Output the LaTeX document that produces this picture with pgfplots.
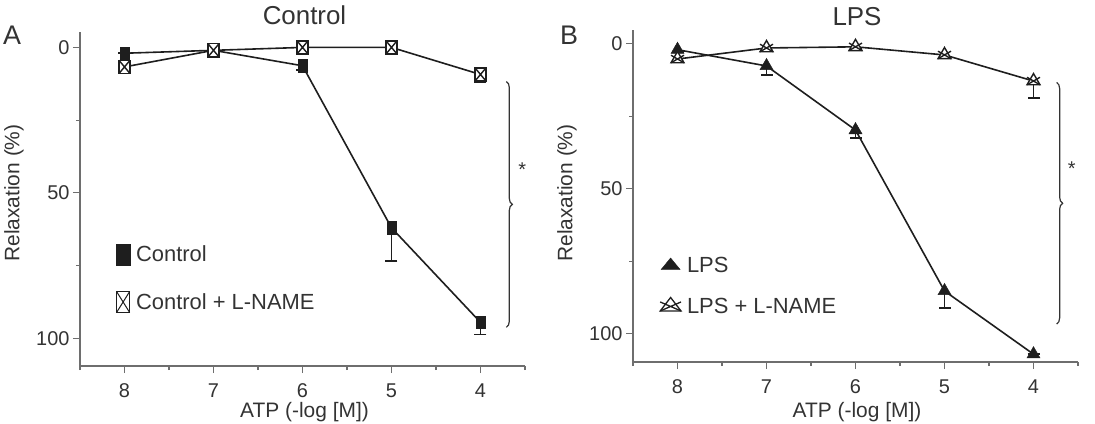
\documentclass[border=0pt]{standalone}
\usepackage{fontspec}
\setmainfont{Liberation Sans}
\usepackage{pgfplots}
\pgfplotsset{compat=1.18}
\usepackage{pgfplotstable}
\usetikzlibrary{decorations.pathreplacing}

\definecolor{ink}{HTML}{1E1E1E}
\definecolor{axisgray}{HTML}{6E6E6E}
\definecolor{txt}{HTML}{333333}

% open box with a cross inside
\pgfdeclareplotmark{boxx}{%
  \pgfpathrectangle{\pgfqpoint{-\pgfplotmarksize}{-\pgfplotmarksize}}{\pgfqpoint{2\pgfplotmarksize}{2\pgfplotmarksize}}%
  \pgfusepathqfillstroke
  \pgfpathmoveto{\pgfqpoint{-\pgfplotmarksize}{-\pgfplotmarksize}}%
  \pgfpathlineto{\pgfqpoint{\pgfplotmarksize}{\pgfplotmarksize}}%
  \pgfpathmoveto{\pgfqpoint{-\pgfplotmarksize}{\pgfplotmarksize}}%
  \pgfpathlineto{\pgfqpoint{\pgfplotmarksize}{-\pgfplotmarksize}}%
  \pgfusepathqstroke}
% open triangle with a cross through it
\pgfdeclareplotmark{trix}{%
  \pgfpathmoveto{\pgfqpointpolar{90}{\pgfplotmarksize}}%
  \pgfpathlineto{\pgfqpointpolar{210}{\pgfplotmarksize}}%
  \pgfpathlineto{\pgfqpointpolar{-30}{\pgfplotmarksize}}%
  \pgfpathclose
  \pgfusepathqfillstroke
  \pgfpathmoveto{\pgfqpointpolar{150}{\pgfplotmarksize}}%
  \pgfpathlineto{\pgfqpointpolar{-30}{\pgfplotmarksize}}%
  \pgfpathmoveto{\pgfqpointpolar{30}{\pgfplotmarksize}}%
  \pgfpathlineto{\pgfqpointpolar{210}{\pgfplotmarksize}}%
  \pgfusepathqstroke}

% ATP concentration (-log M), relaxation (%), SEM
\pgfplotstableread{
x y e
8 2.0 0.0
7 1.0 0.0
6 6.3 1.5
5 62.0 11.4
4 94.5 4.1
}\ctrl
\pgfplotstableread{
x y e
8 6.7 1.2
7 1.0 0.8
6 0.0 0.8
5 0.0 0.8
4 9.3 2.8
}\ctrlname
\pgfplotstableread{
x y e
8 2.0 0.8
7 7.6 3.1
6 29.7 2.7
5 85.2 5.8
4 107.0 0.0
}\lps
\pgfplotstableread{
x y e
8 5.2 1.2
7 1.4 1.0
6 1.0 0.8
5 3.8 1.0
4 12.8 5.8
}\lpsname

\pgfplotsset{
  panel/.style={
    scale only axis, width=445bp,
    x dir=reverse, y dir=reverse,
    xmin=3.5, xmax=8.5,
    axis x line*=bottom, axis y line*=left,
    axis line style={axisgray, line width=1.1bp},
    xtick={4,5,6,7,8}, minor xtick={3.5,4.5,5.5,6.5,7.5,8.5},
    ytick={0,50,100}, minor ytick={25,75},
    tick style={axisgray, line width=1.1bp},
    major tick length=7bp, minor tick length=4bp,
    tick align=outside,
    ticklabel style={font=\fontsize{20}{24}\selectfont, text=txt},
    xticklabel style={yshift=-7bp},
    /pgf/number format/assume math mode=true,
    clip=false,
    legend cell align=left,
    legend image code/.code={\draw[##1] plot coordinates {(0bp,0bp)};},
  },
  series/.style={ink, line width=1.6bp,
    error bars/y dir=plus, error bars/y explicit,
    error bars/error bar style={ink, line width=1.5bp},
    error bars/error mark options={ink, line width=1.5bp, mark size=6bp, rotate=90}},
}

\begin{document}
\begin{tikzpicture}[x=1bp, y=1bp]
\useasboundingbox (0,0) rectangle (1095,423);

% ---- panel A: control ----
\begin{axis}[panel, at={(80bp,57bp)}, anchor=south west,
  height=334bp, ymin=-5.3, ymax=109.5,
  legend style={draw=none, fill=none, at={(0.074,0.372)}, anchor=north west,
    font=\fontsize{22}{26}\selectfont, text=txt, row sep=26bp,
    nodes={inner xsep=6bp}}]
\addlegendimage{only marks, mark=square*, mark size=7bp, mark options={yscale=1.5, fill=ink, draw=ink}}
\addlegendentry{Control}
\addlegendimage{only marks, mark=boxx, mark size=6.5bp, mark options={yscale=1.6, fill=white, draw=ink, line width=1bp}}
\addlegendentry{Control + L-NAME}
\addplot[series, mark=square*, mark size=4.5bp, mark options={yscale=1.4, fill=ink, draw=ink, line width=0.5bp}]
  table[x=x, y=y, y error=e] {\ctrl};
\addplot[series, mark=boxx, mark size=5.5bp, mark options={yscale=1.2, fill=white, draw=ink, line width=1.4bp}]
  table[x=x, y=y, y error=e] {\ctrlname};
\draw[decorate, decoration={brace, amplitude=6bp}, txt, line width=1.2bp]
  (axis cs:3.71,11.7) -- (axis cs:3.71,96.2);
\node[txt, font=\fontsize{20}{24}\selectfont] at (axis cs:3.53,42) {*};
\end{axis}

% ---- panel B: LPS ----
\begin{axis}[panel, at={(633bp,61bp)}, anchor=south west,
  height=332bp, ymin=-4.8, ymax=109.7,
  legend style={draw=none, fill=none, at={(0.054,0.328)}, anchor=north west,
    font=\fontsize{22}{26}\selectfont, text=txt, row sep=20bp,
    nodes={inner xsep=6bp}}]
\addlegendimage{only marks, mark=triangle*, mark size=11bp, mark options={yscale=0.7, fill=ink, draw=ink}}
\addlegendentry{LPS}
\addlegendimage{only marks, mark=trix, mark size=12bp, mark options={yscale=0.75, fill=white, draw=ink, line width=1.3bp}}
\addlegendentry{LPS + L-NAME}
\addplot[series, mark=triangle*, mark size=7.5bp, mark options={fill=ink, draw=ink, line width=0.5bp}]
  table[x=x, y=y, y error=e] {\lps};
\addplot[series, mark=trix, mark size=7.5bp, mark options={fill=white, draw=ink, line width=1.4bp}]
  table[x=x, y=y, y error=e] {\lpsname};
\draw[decorate, decoration={brace, amplitude=6bp}, txt, line width=1.2bp]
  (axis cs:3.74,13.3) -- (axis cs:3.74,96.6);
\node[txt, font=\fontsize{20}{24}\selectfont] at (axis cs:3.57,43) {*};
\end{axis}

% ---- titles, panel letters, axis labels ----
\node[txt, anchor=base, font=\fontsize{26}{30}\selectfont] at (304.5,398.7) {Control};
\node[txt, anchor=base, font=\fontsize{26}{30}\selectfont] at (857,397) {LPS};
\node[txt, anchor=base, font=\fontsize{27}{31}\selectfont] at (12,378.3) {A};
\node[txt, anchor=base, font=\fontsize{27}{31}\selectfont] at (569,378.3) {B};
\node[txt, rotate=90, font=\fontsize{21}{25}\selectfont] at (14,230) {Relaxation (\%)};
\node[txt, rotate=90, font=\fontsize{21}{25}\selectfont] at (567,230) {Relaxation (\%)};
\node[txt, anchor=base, font=\fontsize{21}{25}\selectfont] at (304.5,5.5) {ATP (-log [M])};
\node[txt, anchor=base, font=\fontsize{21}{25}\selectfont] at (857,5.5) {ATP (-log [M])};
\end{tikzpicture}
\end{document}
